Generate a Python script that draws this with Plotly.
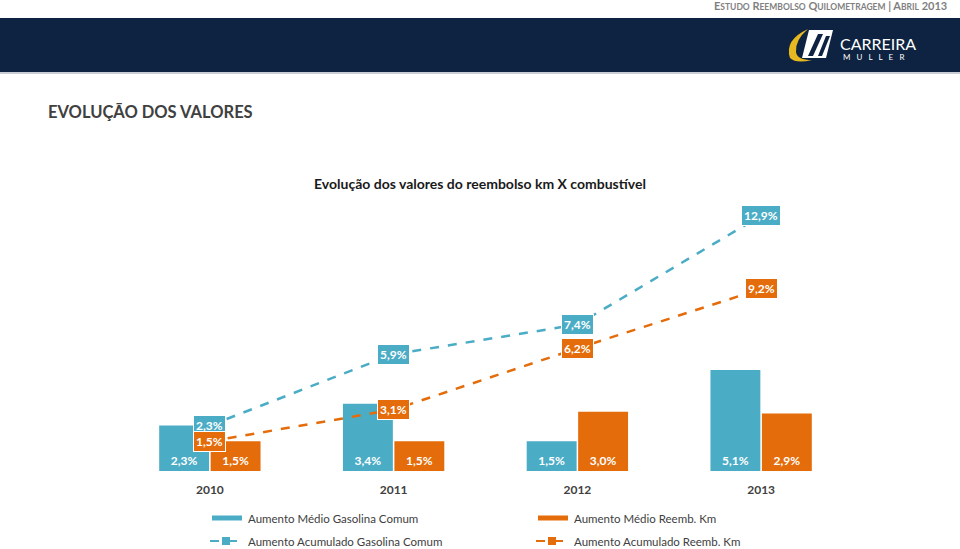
import plotly.graph_objects as go

anos = ["2010", "2011", "2012", "2013"]
medio_gasolina = [2.3, 3.4, 1.5, 5.1]
medio_reemb = [1.5, 1.5, 3.0, 2.9]
acum_gasolina = [2.3, 5.9, 7.4, 12.9]
acum_reemb = [1.5, 3.1, 6.2, 9.2]

nomes = [
    "Aumento Médio Gasolina Comum",
    "Aumento Médio Reemb. Km",
    "Aumento Acumulado Gasolina Comum",
    "Aumento Acumulado Reemb. Km",
]

AZUL = "#4BACC6"
LARANJA = "#E46C0A"
NAVY = "#0E2341"
CINZA = "#404040"
FONTE = "Lato, 'Open Sans', sans-serif"

W, H = 960, 549
L, R, T, B = 118, 107, 194, 78
PW, PH = W - L - R, H - T - B


def px(x):
    return (x - L) / PW


def py(y):
    return (H - B - y) / PH


def pct(v):
    return f"{v:.1f}%".replace(".", ",")


fig = go.Figure()

fig.add_bar(x=anos, y=medio_gasolina, name=nomes[0], marker=dict(color=AZUL, line_width=0),
            text=[f"<b>{pct(v)}</b>" for v in medio_gasolina], textposition="inside",
            insidetextanchor="start", constraintext="none",
            textfont=dict(color="white", size=12, family=FONTE))
fig.add_bar(x=anos, y=medio_reemb, name=nomes[1], marker=dict(color=LARANJA, line_width=0),
            text=[f"<b>{pct(v)}</b>" for v in medio_reemb], textposition="inside",
            insidetextanchor="start", constraintext="none",
            textfont=dict(color="white", size=12, family=FONTE))

for vals, cor, nome in [(acum_gasolina, AZUL, nomes[2]), (acum_reemb, LARANJA, nomes[3])]:
    fig.add_scatter(x=anos, y=vals, name=nome, mode="lines+markers",
                    line=dict(color=cor, width=2.5, dash="dash"),
                    marker=dict(symbol="square", size=8, color=cor))
    # category axis: annotations take the category index
    for i, v in enumerate(vals):
        fig.add_annotation(x=i, y=v, text=f"<b>{pct(v)}</b>", showarrow=False,
                           bgcolor=cor, bordercolor="white", borderwidth=1, borderpad=2,
                           font=dict(color="white", size=12, family=FONTE))

shapes = []
ann = []

# header band
shapes.append(dict(type="rect", xref="paper", yref="paper", x0=px(0), x1=px(W),
                   y0=py(72), y1=py(18), fillcolor=NAVY, line_width=0))
shapes.append(dict(type="line", xref="paper", yref="paper", x0=px(0), x1=px(W),
                   y0=py(73), y1=py(73), line=dict(color="#C8CDD6", width=2)))


def caminho(pts, fechar=True):
    s = "M " + " L ".join(f"{px(x)},{py(y)}" for x, y in pts)
    return s + (" Z" if fechar else "")


# logo icon (approximation)
shapes.append(dict(type="path", xref="paper", yref="paper",
                   path=caminho([(809, 30), (833, 30), (826, 58), (802, 58)]),
                   fillcolor="white", line_width=0))
shapes.append(dict(type="path", xref="paper", yref="paper",
                   path=caminho([(818, 34), (823, 34), (813, 56), (808, 56)]),
                   fillcolor=NAVY, line_width=0))
shapes.append(dict(type="path", xref="paper", yref="paper",
                   path=caminho([(826, 36), (830, 36), (822, 56), (818, 56)]),
                   fillcolor=NAVY, line_width=0))
shapes.append(dict(type="path", xref="paper", yref="paper",
                   path=f"M {px(808)},{py(29)} Q {px(784)},{py(40)} {px(790)},{py(58)} "
                        f"Q {px(796)},{py(64)} {px(812)},{py(60)} "
                        f"Q {px(797)},{py(60)} {px(796)},{py(52)} "
                        f"Q {px(795)},{py(40)} {px(808)},{py(29)} Z",
                   fillcolor="#E8B820", line_width=0))

ann.append(dict(x=px(838), y=py(43), xref="paper", yref="paper", text="CARREIRA",
                showarrow=False, xanchor="left", yanchor="middle",
                font=dict(color="white", size=16, family=FONTE)))
ann.append(dict(x=px(841), y=py(57), xref="paper", yref="paper", text="M   U   L   L   E   R",
                showarrow=False, xanchor="left", yanchor="middle",
                font=dict(color="white", size=8, family=FONTE)))


def versalete(t, p=8.5):
    out = []
    for w in t.split(" "):
        if w.isupper() and len(w) > 1 and w.isalpha():
            out.append(f"{w[0]}<span style='font-size:{p}px'>{w[1:]}</span>")
        else:
            out.append(w)
    return " ".join(out)


ann.append(dict(x=px(949), y=py(6), xref="paper", yref="paper",
                text="<b>" + versalete("ESTUDO REEMBOLSO QUILOMETRAGEM | ABRIL 2013") + "</b>",
                showarrow=False, xanchor="right", yanchor="middle",
                font=dict(color="#7F7F7F", size=11, family=FONTE)))

ann.append(dict(x=px(46), y=py(112), xref="paper", yref="paper",
                text="<b>EVOLUÇÃO DOS VALORES</b>", showarrow=False,
                xanchor="left", yanchor="middle",
                font=dict(color=CINZA, size=16.5, family=FONTE)))

ann.append(dict(x=px(480), y=py(183), xref="paper", yref="paper",
                text="<b>Evolução dos valores do reembolso km X combustível</b>",
                showarrow=False, xanchor="center", yanchor="middle",
                font=dict(color="#1A1A1A", size=14, family=FONTE)))

# legend
leg = [
    (212, 518, AZUL, False, nomes[0]),
    (538, 518, LARANJA, False, nomes[1]),
    (212, 541, AZUL, True, nomes[2]),
    (538, 541, LARANJA, True, nomes[3]),
]
for x, y, cor, tracejado, nome in leg:
    if tracejado:
        shapes.append(dict(type="line", xref="paper", yref="paper", x0=px(x - 2), x1=px(x + 30),
                           y0=py(y), y1=py(y), line=dict(color=cor, width=2, dash="dash")))
        shapes.append(dict(type="rect", xref="paper", yref="paper", x0=px(x + 10), x1=px(x + 18),
                           y0=py(y + 4), y1=py(y - 4), fillcolor=cor, line_width=0))
    else:
        shapes.append(dict(type="line", xref="paper", yref="paper", x0=px(x), x1=px(x + 30),
                           y0=py(y), y1=py(y), line=dict(color=cor, width=5)))
    ann.append(dict(x=px(x + 34), y=py(y), xref="paper", yref="paper", text=nome,
                    showarrow=False, xanchor="left", yanchor="middle",
                    font=dict(color=CINZA, size=11.5, family=FONTE)))

fig.update_layout(
    width=W, height=H,
    margin=dict(l=L, r=R, t=T, b=B),
    paper_bgcolor="white", plot_bgcolor="white",
    barmode="group", bargap=0.44, bargroupgap=0.03,
    showlegend=False,
    font=dict(family=FONTE, color=CINZA),
    xaxis=dict(type="category", range=[-0.5, 3.5], showgrid=False, showline=False,
               zeroline=False, ticks="", ticklabelstandoff=10,
               tickfont=dict(size=12, color=CINZA, family=FONTE),
               tickvals=anos, ticktext=[f"<b>{a}</b>" for a in anos]),
    yaxis=dict(visible=False, range=[0, 14]),
    shapes=shapes,
)
for a in ann:
    fig.add_annotation(**a)

fig.write_html("out.html", config={"displayModeBar": False},
               post_script="document.body.style.margin='0';")
